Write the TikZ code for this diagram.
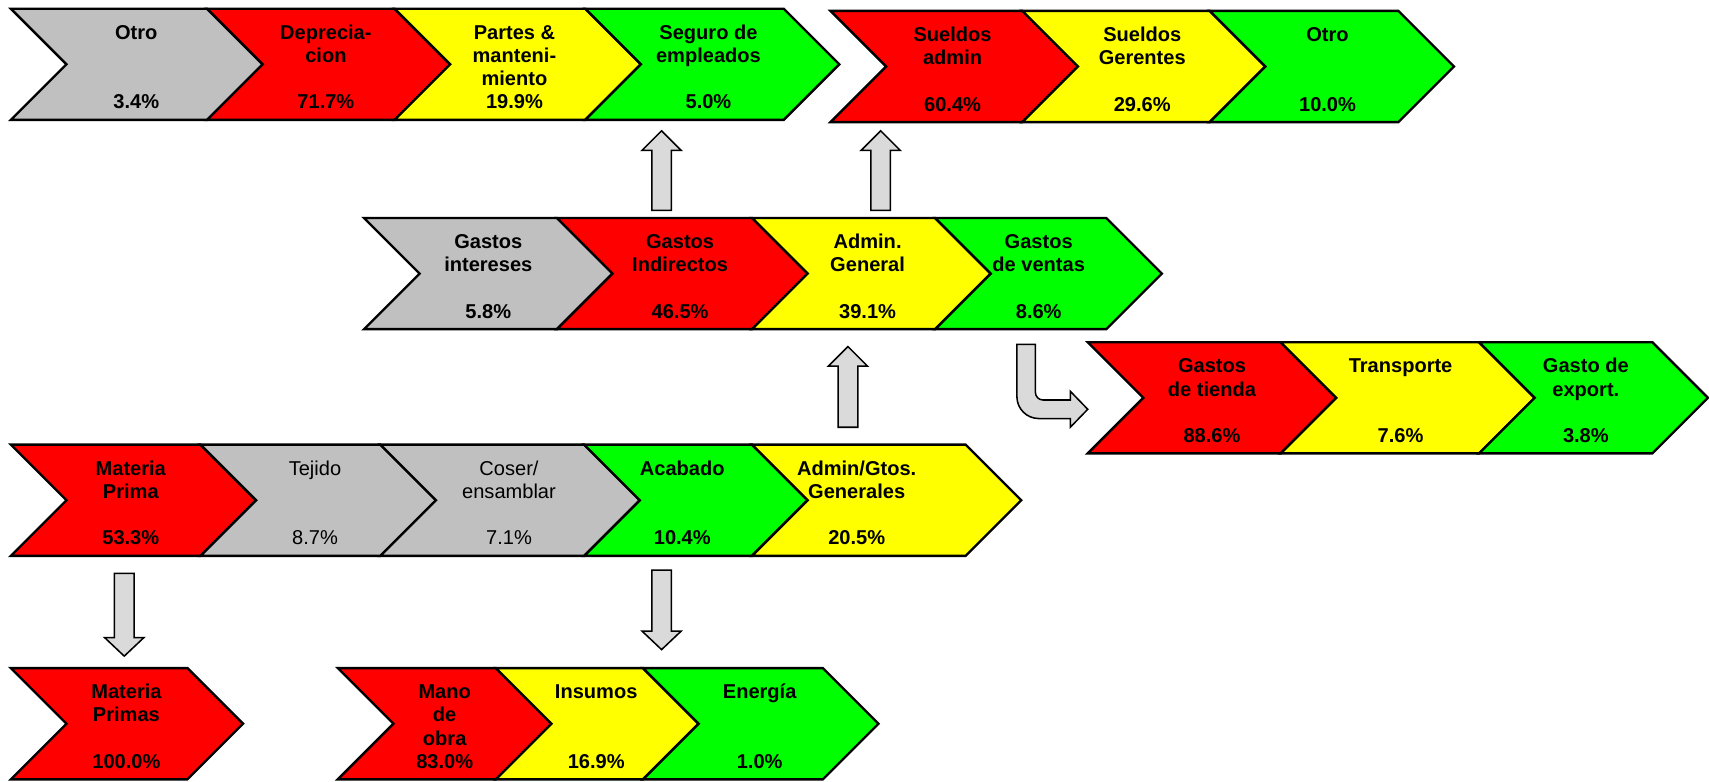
\documentclass[tikz,border=0pt]{standalone}
\usepackage{fontspec}
\setmainfont{Liberation Sans}
\definecolor{cgray}{HTML}{C0C0C0}
\definecolor{cred}{HTML}{FF0000}
\definecolor{cyel}{HTML}{FFFF00}
\definecolor{cgreen}{HTML}{00FF00}
\definecolor{carrow}{HTML}{DADADA}
\newcommand\chev[4]{%
  \draw[chevbox,fill=#4] (#1,#3) -- (#2,#3) -- ({#2+51},{#3+51}) -- (#2,{#3+102}) -- (#1,{#3+102}) -- ({#1+51},{#3+51}) -- cycle;}
\newcommand\blkv[4]{% x, ystart, yend, head base
  \draw[blk] ({#1-9},#2) -- ({#1+9},#2) -- ({#1+9},#4) -- ({#1+18},#4) -- (#1,#3) -- ({#1-18},#4) -- ({#1-9},#4) -- cycle;}
\newcommand\FL{\rule{0pt}{7.5pt}}
\tikzset{
  chevbox/.style={draw=black,line width=1.1pt,line join=miter},
  blk/.style={draw=black,fill=carrow,line width=0.7pt,line join=miter},
  ttl/.style={anchor=north,align=center,inner sep=0pt,font=\bfseries\fontsize{9.2}{10.7}\selectfont},
  pct/.style={anchor=base,inner sep=0pt,font=\bfseries\fontsize{9.2}{10.7}\selectfont},
  reg/.style={font=\mdseries\fontsize{9.2}{10.7}\selectfont}
}
\begin{document}
\begin{tikzpicture}[x=0.5pt,y=-0.5pt]
\useasboundingbox[fill=white] (0,0) rectangle (1568,717);
% ---- Row A (top left)
\chev{10}{190}{8}{cgray}
\chev{190}{362}{8}{cred}
\chev{362}{537}{8}{cyel}
\chev{537}{719}{8}{cgreen}
\node[ttl] (a1) at (125,20.6) {\FL Otro};
\node[pct] (a1p) at (125,100) {3.4\%};
\node[ttl] (a2) at (299,20.6) {\FL Deprecia-\\cion};
\node[pct] (a2p) at (299,100) {71.7\%};
\node[ttl] (a3) at (472,20.6) {\FL Partes \&\\manteni-\\miento};
\node[pct] (a3p) at (472,100) {19.9\%};
\node[ttl] (a4) at (650,20.6) {\FL Seguro de\\empleados};
\node[pct] (a4p) at (650,100) {5.0\%};
% ---- Row B (top right)
\chev{762}{938}{10}{cred}
\chev{938}{1110}{10}{cyel}
\chev{1110}{1283}{10}{cgreen}
\node[ttl] (b1) at (874,22.6) {\FL Sueldos\\admin};
\node[pct] (b1p) at (874,102) {60.4\%};
\node[ttl] (b2) at (1048,22.6) {\FL Sueldos\\Gerentes};
\node[pct] (b2p) at (1048,102) {29.6\%};
\node[ttl] (b3) at (1218,22.6) {\FL Otro};
\node[pct] (b3p) at (1218,102) {10.0\%};
% ---- Row C (middle)
\chev{334}{511}{200}{cgray}
\chev{511}{690}{200}{cred}
\chev{690}{858}{200}{cyel}
\chev{858}{1015}{200}{cgreen}
\node[ttl] (c1) at (448,212.6) {\FL Gastos\\intereses};
\node[pct] (c1p) at (448,292) {5.8\%};
\node[ttl] (c2) at (624,212.6) {\FL Gastos\\Indirectos};
\node[pct] (c2p) at (624,292) {46.5\%};
\node[ttl] (c3) at (796,212.6) {\FL Admin.\\General};
\node[pct] (c3p) at (796,292) {39.1\%};
\node[ttl] (c4) at (953,212.6) {\FL Gastos\\de ventas};
\node[pct] (c4p) at (953,292) {8.6\%};
% ---- Row D (right)
\chev{998}{1175}{314}{cred}
\chev{1175}{1357}{314}{cyel}
\chev{1357}{1516}{314}{cgreen}
\node[ttl] (d1) at (1112,326.6) {\FL Gastos\\de tienda};
\node[pct] (d1p) at (1112,406) {88.6\%};
\node[ttl] (d2) at (1285,326.6) {\FL Transporte};
\node[pct] (d2p) at (1285,406) {7.6\%};
\node[ttl] (d3) at (1455,326.6) {\FL Gasto de\\export.};
\node[pct] (d3p) at (1455,406) {3.8\%};
% ---- Row E (process)
\chev{10}{184}{408}{cred}
\chev{184}{349}{408}{cgray}
\chev{349}{536}{408}{cgray}
\chev{536}{690}{408}{cgreen}
\chev{690}{886}{408}{cyel}
\node[ttl] (e1) at (120,420.6) {\FL Materia\\Prima};
\node[pct] (e1p) at (120,500) {53.3\%};
\node[ttl,reg] (e2) at (289,420.6) {\FL Tejido};
\node[pct,reg] (e2p) at (289,500) {8.7\%};
\node[ttl,reg] (e3) at (467,420.6) {\FL Coser/\\ensamblar};
\node[pct,reg] (e3p) at (467,500) {7.1\%};
\node[ttl] (e4) at (626,420.6) {\FL Acabado};
\node[pct] (e4p) at (626,500) {10.4\%};
\node[ttl] (e5) at (786,420.6) {\FL Admin/Gtos.\\Generales};
\node[pct] (e5p) at (786,500) {20.5\%};
% ---- Row F (bottom)
\chev{10}{172}{613}{cred}
\chev{310}{455}{613}{cred}
\chev{455}{590}{613}{cyel}
\chev{590}{755}{613}{cgreen}
\node[ttl] (f1) at (116,625.6) {\FL Materia\\Primas};
\node[pct] (f1p) at (116,705) {100.0\%};
\node[ttl] (f2) at (408,625.6) {\FL Mano\\de\\obra};
\node[pct] (f2p) at (408,705) {83.0\%};
\node[ttl] (f3) at (547,625.6) {\FL Insumos};
\node[pct] (f3p) at (547,705) {16.9\%};
\node[ttl] (f4) at (697,625.6) {\FL Energía};
\node[pct] (f4p) at (697,705) {1.0\%};
% ---- Block arrows
\blkv{607}{193}{120}{138}
\blkv{808}{193}{120}{138}
\blkv{778}{392}{318}{336}
\blkv{114}{526}{602}{585}
\blkv{607}{523}{596}{579}
% bent arrow
\draw[blk] (933,316) -- (950,316) -- (950,360)
  .. controls (950,363.9) and (953.1,367) .. (957,367)
  -- (982,367) -- (982,359) -- (998,375.5) -- (982,392) -- (982,384)
  -- (953,384) .. controls (942,384) and (933,375) .. (933,364) -- cycle;
\end{tikzpicture}
\end{document}
